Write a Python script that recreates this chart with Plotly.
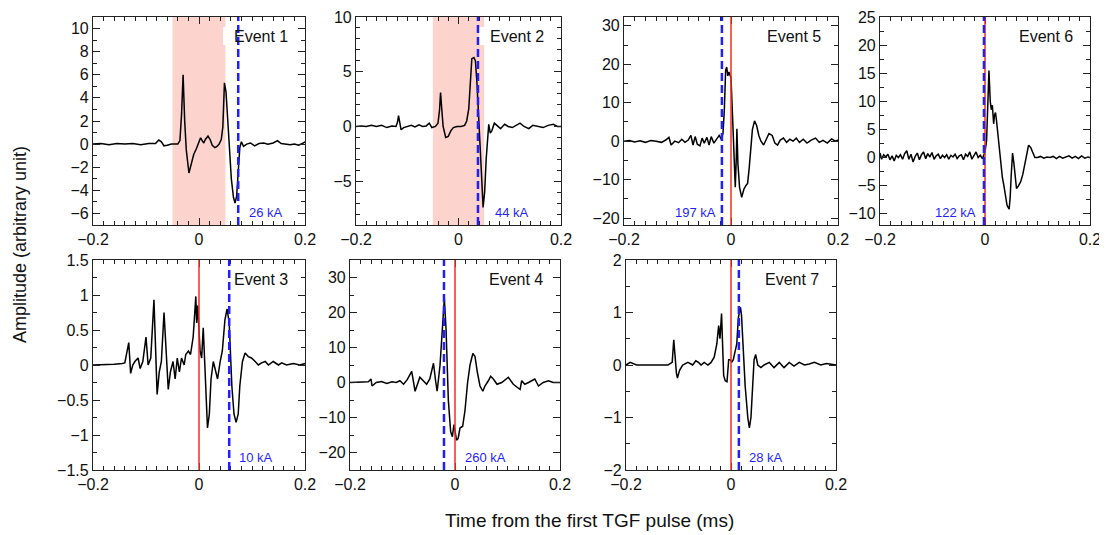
import plotly.graph_objects as go

# ---------------- data ----------------
event_names = ["Event 1", "Event 2", "Event 5", "Event 6", "Event 3", "Event 4", "Event 7"]
current_labels = ["26 kA", "44 kA", "197 kA", "122 kA", "10 kA", "260 kA", "28 kA"]
blue_line_t = [0.074, 0.038, -0.017, -0.002, 0.057, -0.021, 0.015]
red_line_t = [None, None, 0.0, 0.0, 0.0, 0.0, 0.0]
shade_ranges = [(-0.05, 0.05), (-0.05, 0.05), None, None, None, None, None]

t1 = [-0.200, -0.185, -0.170, -0.155, -0.140, -0.125, -0.110, -0.095, -0.082, -0.076, -0.071, -0.066,
      -0.060, -0.052, -0.040, -0.036, -0.033, -0.030, -0.027, -0.024, -0.019, -0.015, -0.010, -0.005,
      0.000, 0.003, 0.006, 0.009, 0.012, 0.017, 0.021, 0.025, 0.030, 0.034, 0.038, 0.042, 0.045, 0.048,
      0.051, 0.054, 0.057, 0.061, 0.065, 0.068, 0.071, 0.074, 0.077, 0.080, 0.084, 0.090, 0.097, 0.105,
      0.113, 0.122, 0.130, 0.140, 0.148, 0.155, 0.163, 0.172, 0.180, 0.188, 0.195, 0.200]
a1 = [0.0, 0.05, -0.05, 0.05, 0.0, 0.05, -0.05, 0.05, 0.05, 0.35, 0.2, -0.15,
      -0.1, 0.0, 0.0, 0.3, 2.5, 6.0, 2.0, -0.5, -2.5, -1.8, -0.9, -0.4,
      0.1, 0.55, 0.3, 0.1, 0.4, 0.7, 0.4, -0.1, -0.3, -0.2, 0.0, 0.4, 1.5, 5.3,
      4.5, 2.0, -0.5, -3.0, -4.6, -5.1, -4.5, -2.5, -0.3, 0.2, -0.2, 0.0, 0.1, -0.15,
      0.05, 0.1, 0.0, 0.1, 0.3, 0.05, 0.0, -0.05, 0.0, -0.1, 0.05, 0.2]

t2 = [-0.200, -0.190, -0.180, -0.170, -0.160, -0.150, -0.140, -0.130, -0.122, -0.119, -0.117, -0.115,
      -0.112, -0.107, -0.100, -0.092, -0.085, -0.077, -0.070, -0.063, -0.057, -0.052, -0.045, -0.040,
      -0.037, -0.035, -0.033, -0.030, -0.025, -0.020, -0.015, -0.010, -0.003, 0.005, 0.012, 0.016,
      0.020, 0.023, 0.026, 0.030, 0.033, 0.036, 0.039, 0.042, 0.045, 0.048, 0.051, 0.054, 0.057,
      0.059, 0.062, 0.065, 0.070, 0.076, 0.082, 0.090, 0.097, 0.105, 0.112, 0.120, 0.128, 0.137,
      0.145, 0.155, 0.165, 0.175, 0.185, 0.193, 0.200]
a2 = [0.0, 0.05, 0.0, 0.1, 0.0, 0.1, -0.1, 0.05, 0.0, 0.4, 1.0, 0.3,
      -0.3, -0.1, 0.0, 0.1, -0.05, 0.15, 0.0, 0.05, 0.3, -0.1, 0.0, 0.3,
      1.5, 3.1, 1.8, 0.0, -1.0, -0.9, -0.4, -0.1, 0.0, 0.0, 0.1, 0.5,
      1.6, 4.5, 6.2, 6.3, 6.0, 4.0, 1.5, -1.5, -4.5, -7.4, -6.0, -3.0, -0.5,
      0.2, -0.6, -0.4, 0.3, 0.0, -0.2, 0.2, 0.0, -0.1, 0.1, 0.3, 0.0, -0.2,
      0.1, 0.0, -0.1, 0.1, 0.2, 0.0, 0.0]

t5 = [-0.200, -0.190, -0.180, -0.170, -0.160, -0.150, -0.140, -0.130, -0.122, -0.116, -0.112, -0.105,
      -0.098, -0.092, -0.086, -0.080, -0.075, -0.071, -0.067, -0.063, -0.058, -0.054, -0.050, -0.045,
      -0.041, -0.037, -0.032, -0.027, -0.022, -0.018, -0.015, -0.0125, -0.010, -0.008, -0.006, -0.004,
      -0.002, 0.000, 0.003, 0.006, 0.008, 0.010, 0.011, 0.013, 0.016, 0.020, 0.024, 0.028, 0.031,
      0.034, 0.037, 0.040, 0.044, 0.048, 0.052, 0.056, 0.061, 0.066, 0.071, 0.077, 0.082, 0.087,
      0.092, 0.098, 0.104, 0.110, 0.116, 0.122, 0.128, 0.135, 0.142, 0.150, 0.158, 0.165, 0.172,
      0.180, 0.188, 0.195, 0.200]
a5 = [0.0, 0.2, -0.2, 0.1, -0.3, 0.2, 0.0, -0.3, 0.3, 1.0, -1.0, 0.0,
      -0.4, 0.5, -0.3, 0.3, 1.5, -1.0, 1.2, -0.8, -1.2, 0.8, -0.5, 1.0,
      -1.0, 1.2, -0.5, 0.5, 1.5, 0.5, 2.0, 8.0, 18.5, 19.3, 17.0, 18.0,
      17.0, 16.5, 6.0, -9.0, -12.0, -4.0, 3.2, -6.0, -12.0, -14.6, -12.5, -11.5, -11.0,
      -7.0, -1.0, 3.0, 5.3, 4.0, 1.5, 0.0, -1.0, 0.5, 2.0, 1.5, -0.5, -1.0,
      0.3, 0.8, -0.3, 0.5, 0.0, 0.8, -0.3, 0.5, -0.5, 0.3, 0.8, -0.3, 0.2,
      -0.5, 0.6, 0.0, 0.3]

t6 = [-0.200, -0.197, -0.193, -0.189, -0.185, -0.181, -0.177, -0.173, -0.169, -0.165, -0.161, -0.157,
      -0.153, -0.149, -0.145, -0.141, -0.137, -0.133, -0.129, -0.125, -0.121, -0.117, -0.113, -0.109,
      -0.105, -0.101, -0.097, -0.093, -0.089, -0.085, -0.081, -0.077, -0.073, -0.069, -0.065, -0.061,
      -0.057, -0.053, -0.049, -0.045, -0.041, -0.037, -0.033, -0.029, -0.025, -0.021, -0.017, -0.013,
      -0.009, -0.005, -0.002, 0.000, 0.003, 0.005, 0.0075, 0.010, 0.012, 0.014, 0.0165, 0.018, 0.020,
      0.022, 0.0245, 0.027, 0.030, 0.033, 0.036, 0.039, 0.042, 0.046, 0.048, 0.050, 0.0525, 0.055,
      0.057, 0.060, 0.064, 0.068, 0.072, 0.076, 0.079, 0.083, 0.087, 0.091, 0.095, 0.100, 0.106,
      0.112, 0.118, 0.124, 0.130, 0.136, 0.142, 0.148, 0.154, 0.160, 0.166, 0.172, 0.178, 0.184,
      0.190, 0.196, 0.200]
a6 = [0.8, -0.3, 0.5, 0.1, 0.6, -0.4, 0.3, -0.6, 0.4, 0.0, 0.5, -0.3,
      0.7, 1.2, -0.3, 0.6, -0.8, 0.2, 0.8, -0.4, 0.5, 1.0, -0.2, 0.7,
      0.1, 0.9, -0.3, 0.3, 0.6, -0.2, 0.4, 0.0, 0.5, -0.3, 0.4, 0.1,
      0.6, -0.2, 0.3, 0.5, -0.4, 0.6, 0.2, 1.0, -0.3, 0.5, 1.0, 0.0,
      0.4, -0.2, 0.6, 1.0, 3.0, 9.0, 15.5, 10.0, 8.5, 9.3, 6.0, 7.5, 8.0,
      6.5, 4.0, 1.5, -1.0, -3.5, -5.0, -6.5, -8.5, -9.2, -7.0, -3.0, 0.8, -1.0,
      -3.5, -5.5, -5.0, -4.3, -3.0, -1.0, 0.8, 2.2, 1.8, 0.8, 0.0, 0.0, 0.2,
      -0.1, 0.1, 0.0, 0.2, -0.2, 0.2, -0.1, 0.1, 0.3, -0.1, 0.2, -0.2, 0.3,
      -0.1, 0.1, 0.0]

t3 = [-0.200, -0.180, -0.160, -0.145, -0.140, -0.1325, -0.129, -0.125, -0.121, -0.115, -0.111, -0.106,
      -0.100, -0.096, -0.091, -0.085, -0.082, -0.079, -0.075, -0.071, -0.066, -0.062, -0.058, -0.054,
      -0.049, -0.045, -0.041, -0.037, -0.033, -0.028, -0.025, -0.020, -0.016, -0.011, -0.006, -0.0045,
      -0.0025, 0.000, 0.002, 0.005, 0.008, 0.011, 0.013, 0.016, 0.0195, 0.0227, 0.027, 0.031, 0.035,
      0.040, 0.044, 0.049, 0.053, 0.057, 0.060, 0.062, 0.066, 0.070, 0.074, 0.077, 0.082, 0.087,
      0.093, 0.099, 0.106, 0.112, 0.118, 0.125, 0.131, 0.140, 0.150, 0.156, 0.165, 0.178, 0.190, 0.200]
a3 = [0.0, 0.0, 0.01, 0.02, 0.03, 0.32, -0.12, 0.0, 0.05, 0.1, -0.05, 0.05,
      0.4, 0.0, 0.1, 0.93, 0.2, -0.42, -0.1, 0.05, 0.75, 0.1, -0.35, -0.1,
      0.05, -0.2, 0.1, -0.1, 0.1, 0.0, 0.15, 0.2, 0.15, 0.4, 0.98, 0.6,
      0.85, 0.5, 0.2, 0.1, 0.53, 0.0, -0.5, -0.9, -0.7, -0.2, 0.05, -0.1, -0.2,
      0.05, 0.2, 0.65, 0.8, 0.6, 0.1, -0.3, -0.7, -0.82, -0.7, -0.3, 0.05, 0.17,
      0.12, 0.1, 0.05, 0.0, 0.03, 0.05, 0.0, 0.05, 0.0, 0.03, 0.0, 0.02, 0.0, 0.02]

t4 = [-0.200, -0.180, -0.165, -0.160, -0.158, -0.150, -0.140, -0.130, -0.120, -0.112, -0.105, -0.098,
      -0.091, -0.0825, -0.076, -0.067, -0.060, -0.054, -0.048, -0.041, -0.037, -0.034, -0.0285, -0.0235,
      -0.0203, -0.017, -0.0127, -0.0083, -0.005, -0.002, 0.000, 0.003, 0.006, 0.0095, 0.0146, 0.019,
      0.024, 0.0286, 0.034, 0.038, 0.0425, 0.0476, 0.053, 0.057, 0.0635, 0.068, 0.073, 0.080, 0.089,
      0.1016, 0.111, 0.124, 0.127, 0.133, 0.140, 0.152, 0.159, 0.168, 0.178, 0.187, 0.200]
a4 = [0.0, 0.0, 0.2, 1.0, -1.0, 0.0, 0.3, -0.3, 0.2, 0.0, 0.5, -0.5,
      0.8, 3.2, -2.5, 1.5, 0.5, -0.5, 1.0, 5.5, 0.5, -2.5, 5.0, 15.0,
      24.0, 15.0, -5.0, -14.0, -15.5, -12.0, -14.0, -16.5, -16.0, -13.0, -12.5, -8.0,
      0.0, 5.0, 8.3, 7.5, 3.0, -1.0, -2.5, -1.0, 0.5, 1.8, 1.0, -0.5, 0.0,
      1.5, -0.5, -2.0, 0.5, -0.5, 0.0, 1.0, -1.0, 0.0, 0.5, 0.0, 0.0]

t7 = [-0.200, -0.192, -0.180, -0.160, -0.140, -0.120, -0.112, -0.109, -0.104, -0.102, -0.098, -0.092,
      -0.082, -0.073, -0.067, -0.062, -0.057, -0.051, -0.044, -0.038, -0.032, -0.027, -0.0235, -0.021,
      -0.018, -0.016, -0.014, -0.011, -0.0076, -0.0044, -0.0013, 0.0013, 0.0044, 0.0076, 0.011, 0.014,
      0.018, 0.020, 0.0235, 0.027, 0.032, 0.035, 0.038, 0.041, 0.044, 0.047, 0.051, 0.057, 0.063,
      0.073, 0.082, 0.092, 0.101, 0.111, 0.120, 0.130, 0.140, 0.149, 0.159, 0.171, 0.182, 0.200]
a7 = [0.0, 0.05, 0.0, 0.0, 0.0, 0.0, 0.05, 0.48, -0.15, -0.25, -0.1, 0.0,
      0.05, 0.0, 0.08, 0.05, 0.0, 0.05, 0.0, 0.05, 0.15, 0.4, 0.75, 0.5,
      0.98, 0.3, -0.2, -0.3, -0.32, 0.1, 0.1, 0.05, 0.1, 0.25, 0.4, 0.9,
      1.1, 0.95, 0.3, -0.4, -1.0, -1.2, -1.0, -0.4, 0.1, 0.2, 0.0, -0.05, 0.0,
      0.05, -0.05, 0.05, -0.05, 0.05, -0.02, 0.05, 0.0, 0.02, 0.05, 0.0, 0.03, 0.0]

times = [t1, t2, t5, t6, t3, t4, t7]
amps = [a1, a2, a5, a6, a3, a4, a7]

x_ticks = [-0.2, 0, 0.2]
y_ranges = [[-7, 11], [-9, 10], [-21.8, 32.3], [-12, 25], [-1.5, 1.5], [-25, 35], [-2, 2]]
y_dticks = [2, 5, 10, 5, 0.5, 10, 1]
y_minor = [1, 1, 5, 2.5, 0.25, 5, 0.5]

# ---------------- layout (pixels, in window coordinates) ----------------
WIN_W, WIN_H = 1107, 535
OFF = 8  # default page body margin
W, H = WIN_W - OFF, WIN_H - OFF
# (left, top, right, bottom) window-pixel boxes of each panel
boxes = [(93, 17, 305, 225), (356, 17, 561, 225), (624, 17, 838, 225), (880, 17, 1090, 225),
         (93, 260, 305, 470), (350, 260, 560, 470), (626, 260, 836, 470)]
# kA label: x position in data units and anchor side
ka_pos = [(0.0906, "left"), (0.068, "left"), (-0.0243, "right"), (-0.0133, "right"),
          (0.0717, "left"), (0.0152, "left"), (0.0305, "left")]


def px(x):
    return (x - OFF) / W


def py(y):
    return 1 - (y - OFF) / H


FONT = "Liberation Sans, Arial, Helvetica, sans-serif"
BLUE = "#1f1fff"
RED = "#f0301e"
SHADE = "#fdd3cd"

fig = go.Figure()
shapes = []
annotations = []
layout_axes = {}

for i in range(7):
    n = i + 1
    xa = "x" if n == 1 else f"x{n}"
    ya = "y" if n == 1 else f"y{n}"
    L, T, R, B = boxes[i]
    xdom = [px(L), px(R)]
    ydom = [py(B), py(T)]

    fig.add_trace(go.Scatter(x=times[i], y=amps[i], mode="lines",
                             line=dict(color="black", width=1.5),
                             xaxis=xa, yaxis=ya, showlegend=False, hoverinfo="skip"))

    common = dict(showline=True, linecolor="#222", linewidth=1.2, mirror="ticks",
                  ticks="inside", ticklen=7, tickwidth=1.1, tickcolor="#222",
                  showgrid=False, zeroline=False, automargin=False,
                  ticklabeloverflow="allow",
                  tickfont=dict(family=FONT, size=16, color="#111"))
    layout_axes["xaxis" if n == 1 else f"xaxis{n}"] = dict(
        common, domain=xdom, anchor=ya, range=[-0.2, 0.2], tickvals=x_ticks,
        minor=dict(dtick=0.02, tick0=0, ticks="inside", ticklen=4, tickcolor="#222", showgrid=False))
    layout_axes["yaxis" if n == 1 else f"yaxis{n}"] = dict(
        common, domain=ydom, anchor=xa, range=y_ranges[i], tick0=0, dtick=y_dticks[i],
        minor=dict(dtick=y_minor[i], tick0=0, ticks="inside", ticklen=4, tickcolor="#222", showgrid=False))

    xr = xa
    xd = f"{xa} domain"
    yd = f"{ya} domain"

    if shade_ranges[i] is not None:
        s0, s1 = shade_ranges[i]
        shapes.append(dict(type="rect", xref=xr, yref=yd, x0=s0, x1=s1, y0=0, y1=1,
                           fillcolor=SHADE, line=dict(width=0), layer="below"))
    # white label box
    bx0 = (R - 82 - L) / (R - L)
    bx1 = (R - 11 - L) / (R - L)
    by0 = (B - (T + 28)) / (B - T)
    by1 = (B - (T + 10)) / (B - T)
    shapes.append(dict(type="rect", xref=xd, yref=yd, x0=bx0, x1=bx1, y0=by0, y1=by1,
                       fillcolor="white", line=dict(width=0), layer="below"))
    if red_line_t[i] is not None:
        shapes.append(dict(type="line", xref=xr, yref=yd, x0=red_line_t[i], x1=red_line_t[i],
                           y0=0, y1=1, line=dict(color=RED, width=1.5)))
    shapes.append(dict(type="line", xref=xr, yref=yd, x0=blue_line_t[i], x1=blue_line_t[i],
                       y0=0, y1=1, line=dict(color=BLUE, width=2.5, dash="8px,4px")))

    annotations.append(dict(text=event_names[i], xref=xd, yref=yd,
                            x=(R - 15 - L) / (R - L), y=(B - (T + 19)) / (B - T),
                            xanchor="right", yanchor="middle", showarrow=False,
                            font=dict(family=FONT, size=16, color="#111")))
    kx, kside = ka_pos[i]
    annotations.append(dict(text=current_labels[i], xref=xr, yref=yd, x=kx, y=0.06,
                            xanchor=kside, yanchor="middle", showarrow=False,
                            font=dict(family=FONT, size=13, color=BLUE)))

annotations.append(dict(text="Amplitude (arbitrary unit)", xref="paper", yref="paper",
                        x=px(20), y=py(245), textangle=-90, showarrow=False,
                        xanchor="center", yanchor="middle",
                        font=dict(family=FONT, size=18, color="#111")))
annotations.append(dict(text="Time from the first TGF pulse (ms)", xref="paper", yref="paper",
                        x=px(590), y=py(520), showarrow=False,
                        xanchor="center", yanchor="middle",
                        font=dict(family=FONT, size=19, color="#111")))

fig.update_layout(width=W, height=H, margin=dict(l=0, r=0, t=0, b=0),
                  paper_bgcolor="white", plot_bgcolor="white",
                  shapes=shapes, annotations=annotations, **layout_axes)

fig.write_html("out.html")
